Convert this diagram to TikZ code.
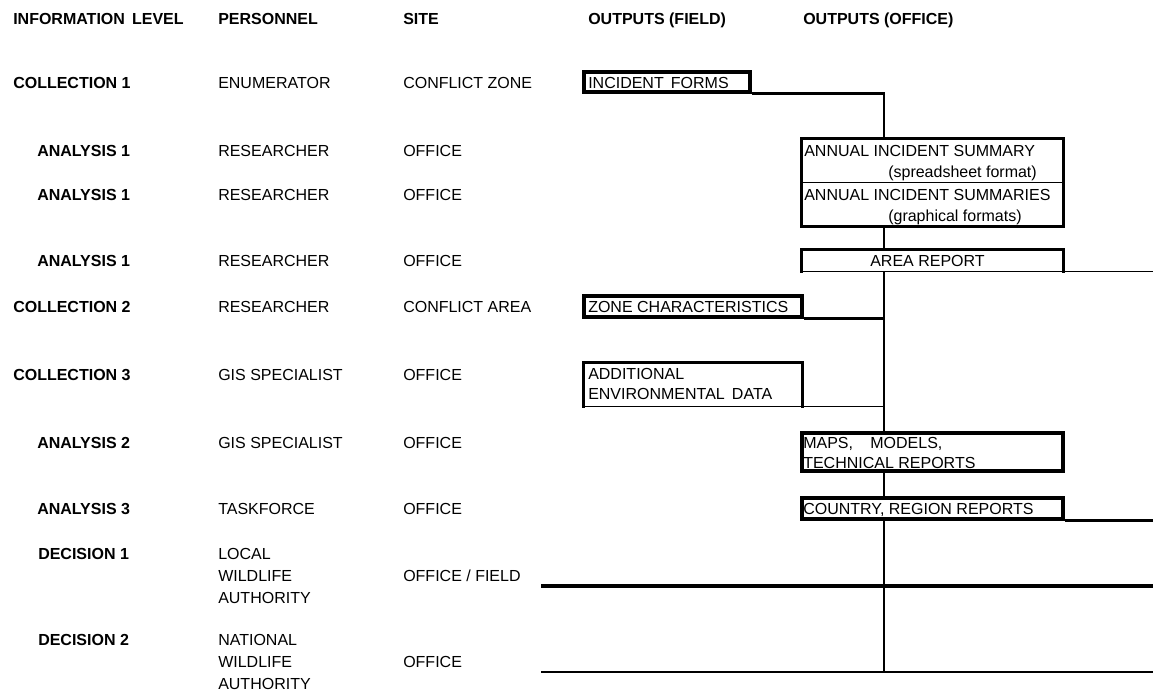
\documentclass[tikz,border=0pt]{standalone}
\usepackage{fontspec}
\setmainfont{Liberation Sans}
\usetikzlibrary{fit}
\begin{document}
\begin{tikzpicture}[x=0.75pt,y=-0.75pt,
  txt/.style={anchor=base west, inner sep=0pt, font=\fontsize{12}{14}\selectfont},
  hd/.style={anchor=base west, inner sep=0pt, font=\fontsize{12}{14}\selectfont\bfseries},
  boxfit/.style={inner sep=0pt},
  heavy/.style={line width=2.4pt},
  conn/.style={line width=2.1pt},
  light/.style={line width=1.1pt},
  bottomrule/.style={line width=1.7pt},
  toprule/.style={line width=2.5pt}]
\useasboundingbox (0,0) rectangle (1153,692);

% headers
\node[hd] (h1) at (13,25) {INFORMATION\hspace{2pt} LEVEL};
\node[hd] (h2) at (218,25) {PERSONNEL};
\node[hd] (h3) at (403,25) {SITE};
\node[hd] (h4) at (588,25) {OUTPUTS (FIELD)};
\node[hd] (h5) at (803,25) {OUTPUTS (OFFICE)};

% rows
\node[hd] (l1) at (13,89) {COLLECTION 1};
\node[txt] (p1) at (218,89) {ENUMERATOR};
\node[txt] (s1) at (403,89) {CONFLICT ZONE};

\node[hd] (l2) at (37,156) {ANALYSIS 1};
\node[txt] (p2) at (218,156) {RESEARCHER};
\node[txt] (s2) at (403,156) {OFFICE};

\node[hd] (l3) at (37,200) {ANALYSIS 1};
\node[txt] (p3) at (218,200) {RESEARCHER};
\node[txt] (s3) at (403,200) {OFFICE};

\node[hd] (l4) at (37,266) {ANALYSIS 1};
\node[txt] (p4) at (218,266) {RESEARCHER};
\node[txt] (s4) at (403,266) {OFFICE};

\node[hd] (l5) at (13,312) {COLLECTION 2};
\node[txt] (p5) at (218,312) {RESEARCHER};
\node[txt] (s5) at (403,312) {CONFLICT AREA};

\node[hd] (l6) at (13,380) {COLLECTION 3};
\node[txt] (p6) at (218,380) {GIS SPECIALIST};
\node[txt] (s6) at (403,380) {OFFICE};

\node[hd] (l7) at (37,448) {ANALYSIS 2};
\node[txt] (p7) at (218,448) {GIS SPECIALIST};
\node[txt] (s7) at (403,448) {OFFICE};

\node[hd] (l8) at (37,514) {ANALYSIS 3};
\node[txt] (p8) at (218,514) {TASKFORCE};
\node[txt] (s8) at (403,514) {OFFICE};

\node[hd] (l9) at (38,559) {DECISION 1};
\node[txt] (p9a) at (218,559) {LOCAL};
\node[txt] (p9b) at (218,581) {WILDLIFE};
\node[txt] (p9c) at (218,603) {AUTHORITY};
\node[txt] (s9) at (403,581) {OFFICE / FIELD};

\node[hd] (l10) at (38,645) {DECISION 2};
\node[txt] (p10a) at (218,645) {NATIONAL};
\node[txt] (p10b) at (218,667) {WILDLIFE};
\node[txt] (p10c) at (218,689) {AUTHORITY};
\node[txt] (s10) at (403,667) {OFFICE};

% boxes
\node[fit={(584,72)(750,92)}, boxfit, draw, heavy] (incident) {};
\node[txt] (tincident) at (588,89) {INCIDENT\hspace{2pt} FORMS};

\node[fit={(802,139)(1063,182)}, boxfit] (annual1) {};
\node[fit={(802,182)(1063,226)}, boxfit] (annual2) {};
\draw[heavy] (annual1.north west) rectangle (annual2.south east);
\draw[light] (annual1.south west) -- (annual1.south east);
\node[txt] (ta1) at (804,156) {ANNUAL INCIDENT SUMMARY};
\node[txt] (ta1b) at (888,177) {(spreadsheet format)};
\node[txt] (ta2) at (804,200) {ANNUAL INCIDENT SUMMARIES};
\node[txt] (ta2b) at (888,221) {(graphical formats)};

\node[fit={(802,250)(1063,271)}, boxfit] (area) {};
\draw[heavy, line cap=rect] (area.south west) -- (area.north west) -- (area.north east) -- (area.south east);
\draw[light] (area.south west) -- (area.south east);
\node[txt] (tarea) at (870,266) {AREA REPORT};

\node[fit={(584,296)(802,317)}, boxfit, draw, heavy] (zone) {};
\node[txt] (tzone) at (588,312) {ZONE CHARACTERISTICS};

\node[fit={(584,363)(802,406)}, boxfit] (additional) {};
\draw[heavy, line cap=rect] (additional.south west) -- (additional.north west) -- (additional.north east) -- (additional.south east);
\draw[light] (additional.south west) -- (additional.south east);
\node[txt] (tadd1) at (588,379) {ADDITIONAL};
\node[txt] (tadd2) at (588,399) {ENVIRONMENTAL\hspace{2pt} DATA};

\node[fit={(802,433)(1063,471)}, boxfit, draw, heavy] (maps) {};
\node[txt] (tmaps1) at (803,448) {MAPS,\hspace{13pt}MODELS,};
\node[txt] (tmaps2) at (803,468) {TECHNICAL REPORTS};

\node[fit={(802,498)(1063,519)}, boxfit, draw, heavy] (country) {};
\node[txt] (tcountry) at (803,514) {COUNTRY, REGION REPORTS};

% coordinates
\coordinate (trunk) at (884,0);
\coordinate (rim) at (1153,0);
\coordinate (d1l) at (541,586);
\coordinate (d1r) at (1153,586);
\coordinate (d2l) at (541,672);
\coordinate (d2r) at (1153,672);

% connectors
\draw[conn] (incident.south east) -- (incident.south east -| trunk) -- (annual1.north -| trunk);
\draw[conn] (annual2.south -| trunk) -- (area.north -| trunk);
\draw[light] (area.south east) -- (area.south east -| rim);
\draw[conn] (area.south -| trunk) -- (maps.north -| trunk);
\draw[conn] (zone.south east) -- (zone.south east -| trunk);
\draw[light] (additional.south east) -- (additional.south east -| trunk);
\draw[conn] (maps.south -| trunk) -- (country.north -| trunk);
\draw[conn] (country.south east) -- (country.south east -| rim);
\draw[conn] (country.south -| trunk) -- (d2l -| trunk);
\draw[toprule] (d1l) -- (d1r);
\draw[bottomrule] (d2l) -- (d2r);
\end{tikzpicture}
\end{document}
